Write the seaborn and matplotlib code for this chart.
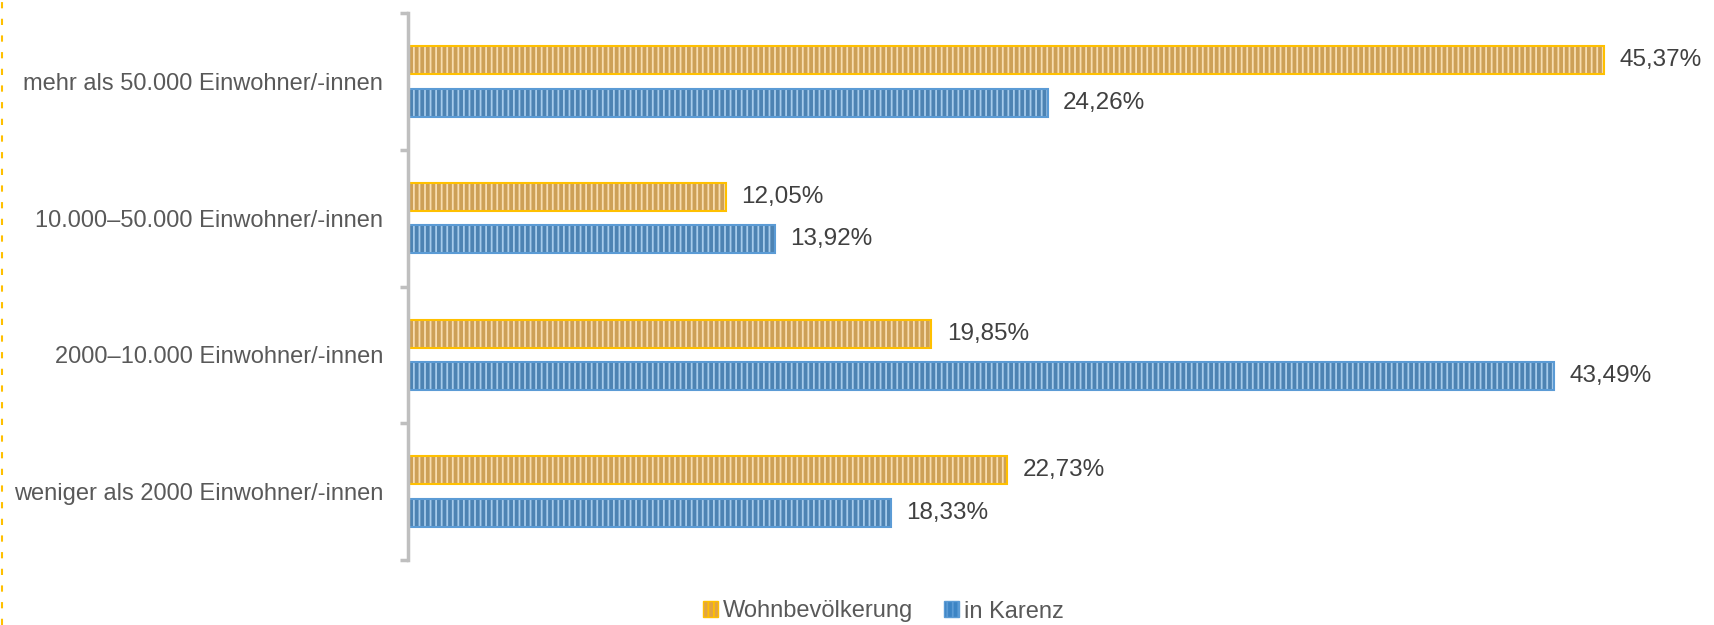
import matplotlib
matplotlib.use("Agg")
import matplotlib.pyplot as plt
import pandas as pd
import seaborn as sns
from matplotlib.lines import Line2D
from matplotlib.patches import Patch

categories = [
    "mehr als 50.000 Einwohner/-innen",
    "10.000–50.000 Einwohner/-innen",
    "2000–10.000 Einwohner/-innen",
    "weniger als 2000 Einwohner/-innen",
]
series_names = ["Wohnbevölkerung", "in Karenz"]
wohnbevoelkerung = [45.37, 12.05, 19.85, 22.73]
in_karenz = [24.26, 13.92, 43.49, 18.33]

fills = {"Wohnbevölkerung": "#E0A444", "in Karenz": "#3C84C4"}
edges = {"Wohnbevölkerung": "#FFC000", "in Karenz": "#5B9BD5"}
hatch_colors = {"Wohnbevölkerung": "#F8DDB0", "in Karenz": "#A6CBEB"}

df = pd.DataFrame({
    "Kategorie": categories * 2,
    "Serie": [series_names[0]] * 4 + [series_names[1]] * 4,
    "Wert": wohnbevoelkerung + in_karenz,
})

sns.set_style("white")
plt.rcParams["font.family"] = ["Liberation Sans", "DejaVu Sans"]
plt.rcParams["hatch.linewidth"] = 1.3

fig = plt.figure(figsize=(17.15, 6.25), dpi=100)
ax = fig.add_axes([0.238, 0.104, 0.75, 0.875])

sns.barplot(
    data=df, y="Kategorie", x="Wert", hue="Serie", order=categories,
    hue_order=series_names, orient="h", width=0.62, gap=0.34,
    palette=fills, legend=False, ax=ax,
)

for container, name in zip(ax.containers, series_names):
    for bar in container:
        bar.set_edgecolor(edges[name])
        bar.set_linewidth(1.5)
        bar.set_hatch("|||")
        bar._hatch_color = matplotlib.colors.to_rgba(hatch_colors[name])
    ax.bar_label(
        container,
        labels=[f"{v:.2f}%".replace(".", ",") for v in container.datavalues],
        padding=11, fontsize=17.5, color="#404040",
    )

ax.set_xlim(0, 48.8)
ax.set_ylim(3.5, -0.5)
ax.set_xlabel("")
ax.set_ylabel("")
ax.set_xticks([])
for side in ["top", "right", "bottom"]:
    ax.spines[side].set_visible(False)
ax.spines["left"].set_color("#BFBFBF")
ax.spines["left"].set_linewidth(2.5)
ax.tick_params(axis="y", which="major", length=0, pad=18, labelsize=17, labelcolor="#595959")
ax.set_yticks([-0.5, 0.5, 1.5, 2.5, 3.5], minor=True)
ax.tick_params(axis="y", which="minor", left=True, length=6, width=2.5, color="#BFBFBF")

handles = [
    Patch(facecolor=fills[n], edgecolor=edges[n], hatch="|||", label=n)
    for n in series_names
]
fig.legend(
    handles=handles, loc="lower center", bbox_to_anchor=(0.515, -0.03), ncol=2,
    frameon=False, fontsize=17, handlelength=0.65, handleheight=0.65,
    handletextpad=0.2, columnspacing=1.3, labelcolor="#595959",
)

fig.add_artist(Line2D([0.001, 0.001], [0, 1], transform=fig.transFigure,
                      color="#FFC000", linestyle=(0, (3, 5)), linewidth=1.5))

fig.savefig("out.png", dpi=100)
